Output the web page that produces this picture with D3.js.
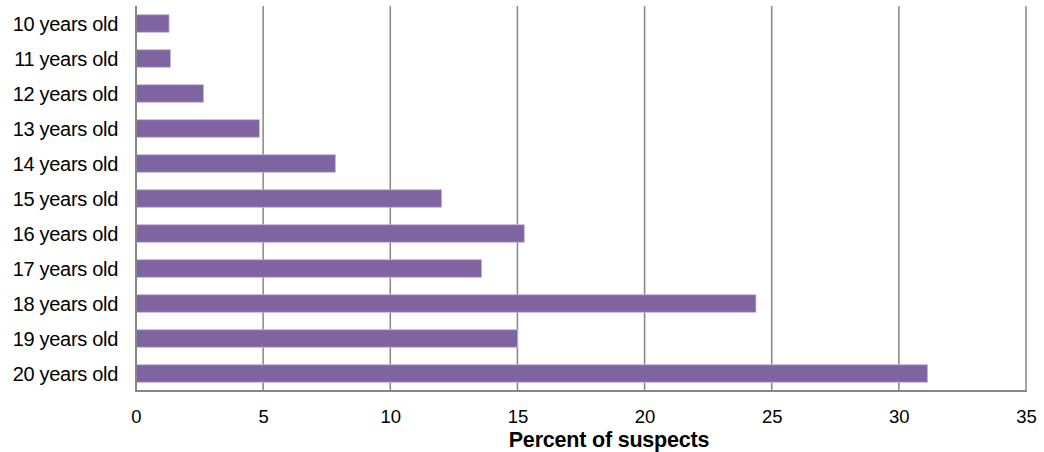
<!DOCTYPE html>
<html><head><meta charset="utf-8">
<script src="https://cdn.jsdelivr.net/npm/d3@7"></script>
<style>
body{margin:0;background:#fff;}
text{font-family:"Liberation Sans",Arial,sans-serif;fill:#000;}
</style></head>
<body><svg id="c" width="1044" height="452"></svg>
<script>
const categories = ["10 years old","11 years old","12 years old","13 years old","14 years old","15 years old","16 years old","17 years old","18 years old","19 years old","20 years old"];
const values = [1.3,1.36,2.65,4.85,7.84,12.02,15.27,13.59,24.38,15.0,31.13];
const xTicks = [0,5,10,15,20,25,30,35];
const xTitle = "Percent of suspects";

const svg = d3.select("#c");
const L=136, R=1026, T=6, B=391;
const x = d3.scaleLinear().domain([0,35]).range([L,R]);
const y = d3.scaleBand().domain(categories).range([T,B]).paddingInner(0.5).paddingOuter(0.25);

// gridlines
svg.append("g").selectAll("line").data(xTicks.slice(1)).join("line")
  .attr("x1",d=>x(d)).attr("x2",d=>x(d)).attr("y1",T).attr("y2",B)
  .attr("stroke","#868686").attr("stroke-width",1.5);

// bars
svg.append("g").selectAll("rect").data(values).join("rect")
  .attr("x",x(0)).attr("y",(d,i)=>y(categories[i]))
  .attr("width",d=>x(d)-x(0)).attr("height",y.bandwidth())
  .attr("fill","#8064a2").attr("stroke","#c4b5d9").attr("stroke-width",0.8);

// axes lines
svg.append("line").attr("x1",L).attr("x2",L).attr("y1",T).attr("y2",B)
  .attr("stroke","#868686").attr("stroke-width",2);
svg.append("line").attr("x1",L-1).attr("x2",R+1).attr("y1",B).attr("y2",B)
  .attr("stroke","#868686").attr("stroke-width",2);

// x tick labels
const xa = d3.axisBottom(x).tickValues(xTicks).tickSize(0).tickPadding(0);
const gx = svg.append("g").attr("transform",`translate(0,${B})`).call(xa);
gx.select(".domain").remove();
gx.selectAll("text").attr("y",32).attr("dy",0).style("font-size","18.5px").style("font-family","Liberation Sans, Arial, sans-serif").attr("fill","#000");

// y labels
const ya = d3.axisLeft(y).tickSize(0).tickPadding(0);
const gy = svg.append("g").attr("transform",`translate(118,0)`).call(ya);
gy.select(".domain").remove();
gy.selectAll("text").attr("dy","0.36em").style("font-size","20px").style("letter-spacing","-0.3px").style("font-family","Liberation Sans, Arial, sans-serif").attr("fill","#000");

svg.append("text").attr("x",609).attr("y",447).attr("text-anchor","middle")
  .style("font-size","21.5px").style("font-weight","bold").style("letter-spacing","-0.2px").text(xTitle);
</script></body></html>
